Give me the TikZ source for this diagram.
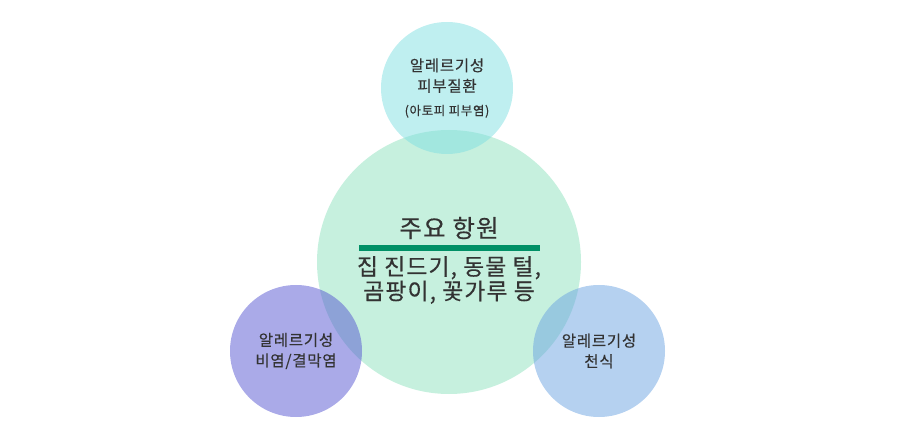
\documentclass[tikz,border=0pt]{standalone}
\usepackage{fontspec}
\setmainfont{Noto Sans CJK KR}[FakeBold=0.4, LetterSpace=5]
\definecolor{txtgray}{HTML}{333333}
\definecolor{antigreen}{HTML}{8DE1BD}
\definecolor{skincyan}{HTML}{7FDFE1}
\definecolor{nosepurple}{HTML}{5555D1}
\definecolor{lungblue}{HTML}{6BA3E1}
\definecolor{bargreen}{HTML}{009066}
\tikzset{
  disease/.style={circle, minimum size=132pt, inner sep=0pt, fill opacity=0.5, text opacity=1,
    text=txtgray, align=center, font=\fontsize{15.5}{20.5}\selectfont},
}
\begin{document}
\begin{tikzpicture}[x=1pt, y=-1pt, line join=round, line cap=round]
\useasboundingbox (0,0) rectangle (897,438);
% main circle
\node[circle, minimum size=264pt, inner sep=0pt, fill=antigreen, fill opacity=0.5] (antigen) at (449,262) {};
\node[disease, fill=skincyan] (skin) at (447,88) {알레르기성\\피부질환\\[3pt]{\fontsize{12.5}{14}\selectfont(아토피 피부염)}};
\node[disease, fill=nosepurple] (nose) at (296,351) {알레르기성\\비염/결막염};
\node[disease, fill=lungblue] (lung) at (599,351) {알레르기성\\천식};
% text of the main circle
\node[text=txtgray, font=\fontsize{24.5}{26}\selectfont] (title) at (449,228) {주요 항원};
\draw[bargreen, line width=6pt, line cap=butt] (359,248) -- (540,248);
\node[text=txtgray, align=center, font=\fontsize{22.8}{24.5}\selectfont] (items) at (449,280) {집 진드기, 동물 털,\\곰팡이, 꽃가루 등};
\end{tikzpicture}
\end{document}
